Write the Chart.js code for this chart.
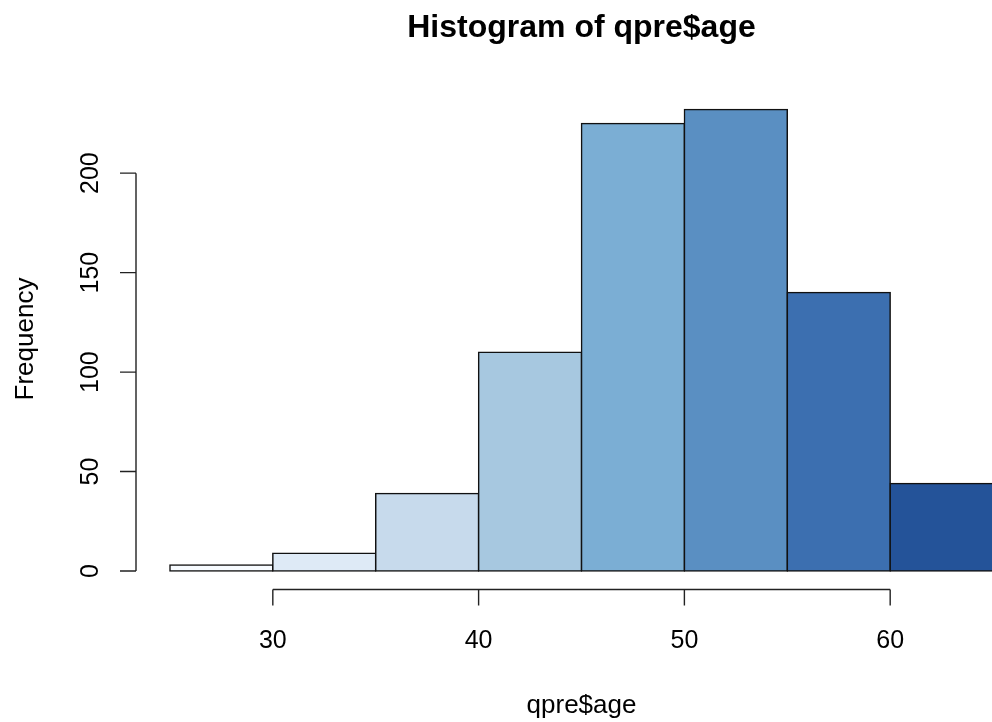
<!DOCTYPE html>
<html>
<head>
<meta charset="utf-8">
<script src="https://cdn.jsdelivr.net/npm/chart.js@4/dist/chart.umd.min.js"></script>
<style>
  html, body { margin: 0; padding: 0; background: #fff; overflow: hidden; width: 992px; height: 722px; }
  #wrap { width: 992px; height: 722px; overflow: hidden; position: relative; }
  canvas { display: block; }
</style>
</head>
<body>
<div id="wrap"><canvas id="c" width="1030" height="722"></canvas></div>
<script>
// ---- data ----
const binStarts = [25, 30, 35, 40, 45, 50, 55, 60];
const binWidth = 5;
const counts = [3, 9, 39, 110, 225, 232, 140, 44];
const xTicks = [30, 40, 50, 60];
const yTicks = [0, 50, 100, 150, 200];
const titleText = 'Histogram of qpre$age';
const xLabel = 'qpre$age';
const yLabel = 'Frequency';
const barColors = ['#F7FBFF', '#DEEAF6', '#C7DAEC', '#A7C8E0', '#7BAED4', '#5A8FC2', '#3C6FB0', '#245399'];

const points = binStarts.map((s, i) => ({ x: s + binWidth / 2, y: counts[i] }));

const FONT = '"Liberation Sans", Arial, Helvetica, sans-serif';

const rAxes = {
  id: 'rAxes',
  afterDraw(chart) {
    const ctx = chart.ctx;
    const xs = chart.scales.x, ys = chart.scales.y;
    const area = chart.chartArea;
    ctx.save();
    ctx.strokeStyle = '#222';
    ctx.fillStyle = '#000';
    ctx.lineWidth = 1.4;

    // x axis (R style, at bottom of plot region)
    const yAx = area.bottom;
    const xa = xs.getPixelForValue(xTicks[0]);
    const xb = xs.getPixelForValue(xTicks[xTicks.length - 1]);
    ctx.beginPath();
    ctx.moveTo(xa, yAx); ctx.lineTo(xb, yAx);
    xTicks.forEach(t => {
      const px = xs.getPixelForValue(t);
      ctx.moveTo(px, yAx); ctx.lineTo(px, yAx + 16);
    });
    ctx.stroke();
    ctx.font = '25px ' + FONT;
    ctx.textAlign = 'center';
    ctx.textBaseline = 'alphabetic';
    xTicks.forEach(t => {
      ctx.fillText(String(t), xs.getPixelForValue(t), 648);
    });

    // y axis (at left of plot region)
    const xAx = area.left - 1;
    const ya = ys.getPixelForValue(yTicks[0]);
    const yb = ys.getPixelForValue(yTicks[yTicks.length - 1]);
    ctx.beginPath();
    ctx.moveTo(xAx, ya); ctx.lineTo(xAx, yb);
    yTicks.forEach(t => {
      const py = ys.getPixelForValue(t);
      ctx.moveTo(xAx, py); ctx.lineTo(xAx - 16, py);
    });
    ctx.stroke();
    yTicks.forEach(t => {
      const py = ys.getPixelForValue(t);
      ctx.save();
      ctx.translate(98, py);
      ctx.rotate(-Math.PI / 2);
      ctx.textAlign = 'center';
      ctx.fillText(String(t), 0, 0);
      ctx.restore();
    });

    // axis titles
    const cx = (area.left + area.right) / 2;
    ctx.font = '26px ' + FONT;
    ctx.textAlign = 'center';
    ctx.fillText(xLabel, cx, 713);
    ctx.save();
    ctx.translate(33, 339);
    ctx.rotate(-Math.PI / 2);
    ctx.fillText(yLabel, 0, 0);
    ctx.restore();

    // main title
    ctx.font = 'bold 32px ' + FONT;
    ctx.fillText(titleText, cx, 37);
    ctx.restore();
  }
};

new Chart(document.getElementById('c'), {
  type: 'bar',
  data: {
    datasets: [{
      data: points,
      backgroundColor: barColors,
      borderColor: '#111',
      borderWidth: 1.5,
      borderSkipped: false,
      inflateAmount: 0.75,
      barPercentage: 1.0,
      categoryPercentage: 1.0
    }]
  },
  options: {
    responsive: false,
    animation: false,
    devicePixelRatio: 1,
    layout: { padding: { left: 137, right: 4, top: 91, bottom: 132.5 } },
    plugins: { legend: { display: false }, title: { display: false }, tooltip: { enabled: false } },
    scales: {
      x: { type: 'linear', display: false, min: 23.4, max: 66.6, offset: false },
      y: { type: 'linear', display: false, min: -9.28, max: 241.28 }
    }
  },
  plugins: [rAxes]
});
</script>
</body>
</html>
